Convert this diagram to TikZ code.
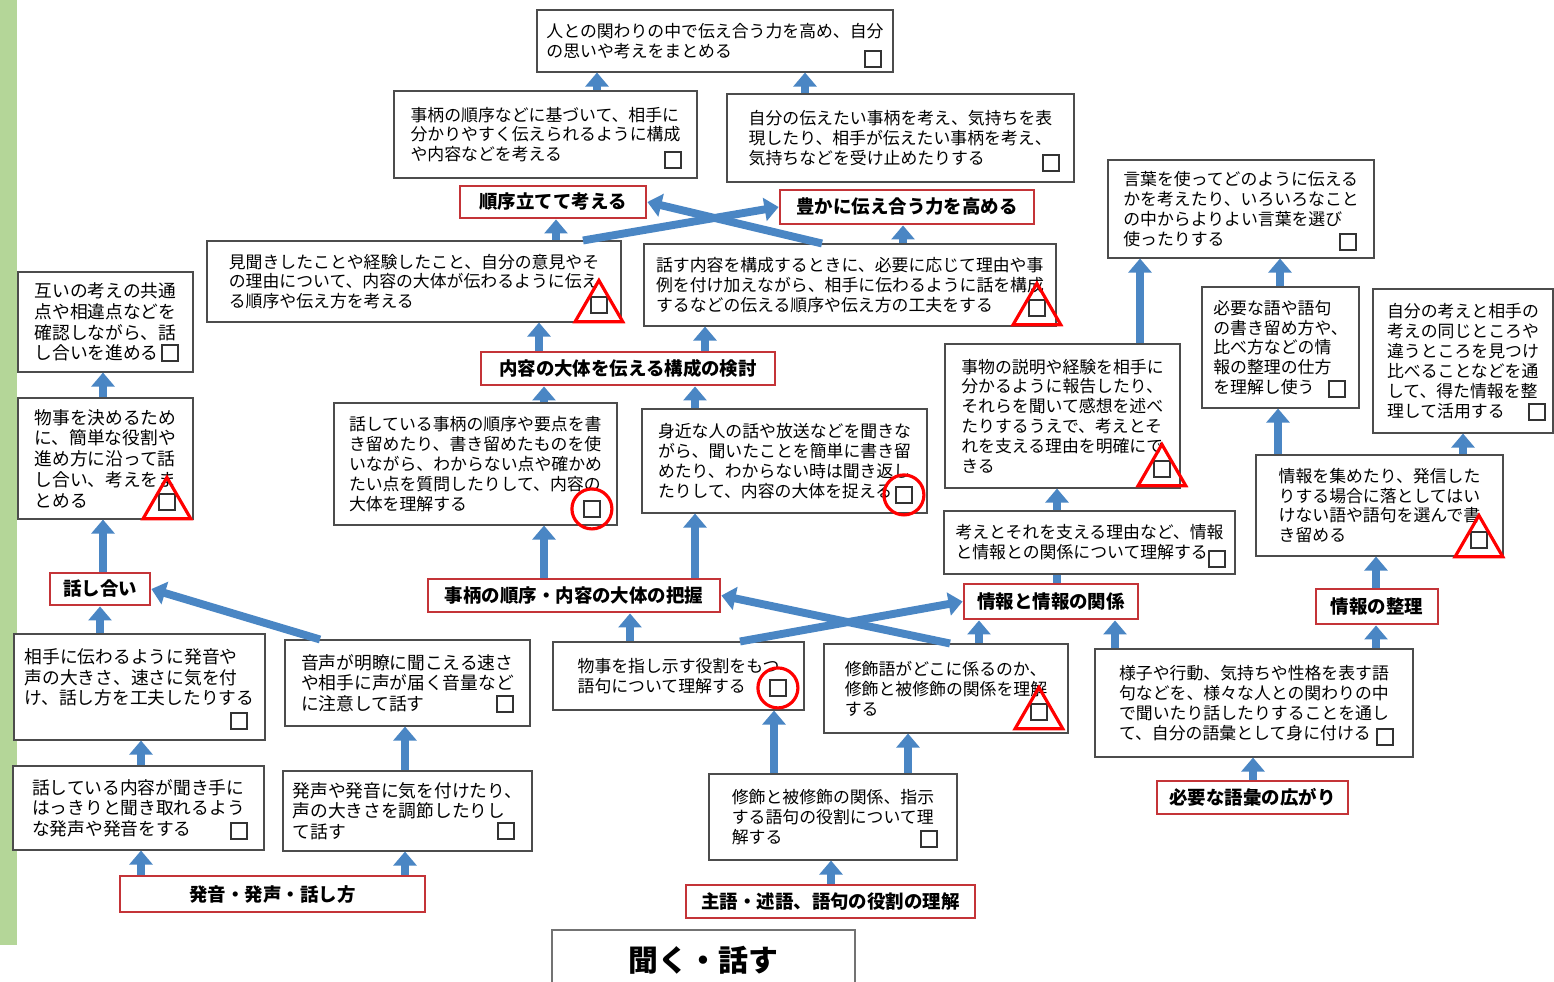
\documentclass[tikz,border=0pt]{standalone}
\usepackage{fontspec}
\usepackage{tikz}
\usetikzlibrary{arrows.meta,shapes.geometric}
\newfontfamily\cjk{Noto Sans CJK JP}
\definecolor{arrowblue}{RGB}{74,134,196}
\definecolor{tagred}{RGB}{196,52,56}
\definecolor{stripgreen}{RGB}{180,214,152}

\begin{document}
\begin{tikzpicture}
		[x=0.02cm,y=-0.02cm,
		box/.style={draw=black!70,line width=0.6pt,fill=white,align=left,inner sep=0pt,
font=\cjk\fontsize{9.6}{11.3}\selectfont},
		loose/.style={font=\cjk\fontsize{10.1}{11.8}\selectfont},
		sz/.style 2 args={minimum width=#1*0.02cm,minimum height=#2*0.02cm},
		tag/.style={draw=tagred,line width=1.6pt,fill=white,inner sep=0pt,
font=\cjk\bfseries\fontsize{10.5}{12}\selectfont},
		chk/.style={draw=black!80,line width=0.7pt,fill=white,inner sep=0pt,
minimum size=0.32cm,anchor=south east},
		tri/.style={regular polygon,regular polygon sides=3,draw=red,line width=1.8pt,
minimum size=1.1cm,inner sep=0pt},
		ring/.style={circle,draw=red,line width=1.8pt,minimum size=0.8cm,inner sep=0pt},
		flow/.style={draw=arrowblue,line width=4.5pt,-{Triangle[width=13pt,length=8pt]}},
		link/.style={draw=arrowblue,line width=4.5pt}]
		\fill[white] (0,0) rectangle (1554,981);
		\useasboundingbox (0,0) rectangle (1554,981);
		\fill[stripgreen] (0,0) rectangle (17,945);

		\node at (715,41) (top) [box,sz={356}{62}] {人との関わりの中で伝え合う力を高め、自分\\の思いや考えをまとめる};
		\node at (545.5,134.5) (bA) [box,sz={303}{87}] {事柄の順序などに基づいて、相手に\\分かりやすく伝えられるように構成\\や内容などを考える};
		\node at (900.5,138) (bB) [box,sz={347}{88}] {自分の伝えたい事柄を考え、気持ちを表\\現したり、相手が伝えたい事柄を考え、\\気持ちなどを受け止めたりする};
		\node at (553,202) (junjo) [tag,sz={186}{32}] {順序立てて考える};
		\node at (907,207) (yutaka) [tag,sz={254}{34}] {豊かに伝え合う力を高める};
		\node at (414,281.5) (bC) [box,sz={414}{81}] {見聞きしたことや経験したこと、自分の意見やそ\\の理由について、内容の大体が伝わるように伝え\\る順序や伝え方を考える};
		\node at (850,285) (bD) [box,sz={412}{82}] {話す内容を構成するときに、必要に応じて理由や事\\例を付け加えながら、相手に伝わるように話を構成\\するなどの伝える順序や伝え方の工夫をする};
		\node at (628,368.5) (kousei) [tag,sz={294}{33}] {内容の大体を伝える構成の検討};
		\node at (475.5,464) (bE) [box,sz={283}{122}] {話している事柄の順序や要点を書\\き留めたり、書き留めたものを使\\いながら、わからない点や確かめ\\たい点を質問したりして、内容の\\大体を理解する};
		\node at (784.5,461) (bF) [box,sz={285}{104}] {身近な人の話や放送などを聞きな\\がら、聞いたことを簡単に書き留\\めたり、わからない時は聞き返し\\たりして、内容の大体を捉える};
		\node at (574,595.5) (haaku) [tag,sz={292}{33}] {事柄の順序・内容の大体の把握};

		\node at (105.5,322) (bG) [box,loose,sz={175}{100}] {互いの考えの共通\\点や相違点などを\\確認しながら、話\\し合いを進める};
		\node at (105.5,458.5) (bH) [box,loose,sz={175}{121}] {物事を決めるため\\に、簡単な役割や\\進め方に沿って話\\し合い、考えをま\\とめる};
		\node at (100,589) (hanashi) [tag,sz={100}{32}] {話し合い};
		\node at (139.5,687) (bI) [box,loose,sz={251}{106}] {相手に伝わるように発音や\\声の大きさ、速さに気を付\\け、話し方を工夫したりする\\\mbox{}};
		\node at (407.5,683) (bJ) [box,loose,sz={245}{86}] {音声が明瞭に聞こえる速さ\\や相手に声が届く音量など\\に注意して話す};
		\node at (138.5,808) (bK) [box,loose,sz={251}{84}] {話している内容が聞き手に\\はっきりと聞き取れるよう\\な発声や発音をする};
		\node at (407.5,811) (bL) [box,loose,sz={249}{80}] {発声や発音に気を付けたり、\\声の大きさを調節したりし\\て話す};
		\node at (272.5,894) (hatsuon) [tag,sz={305}{36}] {発音・発声・話し方};

		\node at (678.5,676) (bM) [box,sz={251}{68}] {物事を指し示す役割をもつ\\語句について理解する};
		\node at (946,688.5) (bN) [box,sz={244}{89}] {修飾語がどこに係るのか、\\修飾と被修飾の関係を理解\\する};
		\node at (833,817) (bO) [box,sz={248}{86}] {修飾と被修飾の関係、指示\\する語句の役割について理\\解する};
		\node at (830.5,901.5) (shugo) [tag,sz={289}{33}] {主語・述語、語句の役割の理解};
		\node at (703.5,960) (title) [draw=black!55,line width=1.3pt,fill=white,sz={303}{60},
font=\cjk\bfseries\fontsize{17}{20}\selectfont] {聞く・話す};

		\node at (1241,209) (bP) [box,sz={266}{98}] {言葉を使ってどのように伝える\\かを考えたり、いろいろなこと\\の中からよりよい言葉を選び\\使ったりする};
		\node at (1280.5,347.5) (bQ) [box,sz={157}{121}] {必要な語や語句\\の書き留め方や、\\比べ方などの情\\報の整理の仕方\\を理解し使う};
		\node at (1463,361) (bR) [box,sz={180}{144}] {自分の考えと相手の\\考えの同じところや\\違うところを見つけ\\比べることなどを通\\して、得た情報を整\\理して活用する};
		\node at (1062.5,416) (bS) [box,sz={235}{144}] {事物の説明や経験を相手に\\分かるように報告したり、\\それらを聞いて感想を述べ\\たりするうえで、考えとそ\\れを支える理由を明確にで\\きる};
		\node at (1089.5,542.5) (bT) [box,sz={291}{63}] {考えとそれを支える理由など、情報\\と情報との関係について理解する};
		\node at (1379.5,505.5) (bU) [box,sz={247}{101}] {情報を集めたり、発信した\\りする場合に落としてはい\\けない語や語句を選んで書\\き留める};
		\node at (1051,601.5) (kankei) [tag,sz={174}{35}] {情報と情報の関係};
		\node at (1377,606.5) (seiri) [tag,sz={122}{35}] {情報の整理};
		\node at (1254,703) (bV) [box,sz={318}{108}] {様子や行動、気持ちや性格を表す語\\句などを、様々な人との関わりの中\\で聞いたり話したりすることを通し\\て、自分の語彙として身に付ける};
		\node at (1252.5,797.5) (goi) [tag,sz={191}{33}] {必要な語彙の広がり};

		\node at ([shift={(-12,-5)}]top.south east) (cTop) [chk] {};
		\node at ([shift={(-16,-10)}]bA.south east) (cA) [chk] {};
		\node at ([shift={(-15,-11)}]bB.south east) (cB) [chk] {};
		\node at ([shift={(-14,-9)}]bC.south east) (cC) [chk] {};
		\node at ([shift={(-11,-10)}]bD.south east) (cD) [chk] {};
		\node at ([shift={(-17,-8)}]bE.south east) (cE) [chk] {};
		\node at ([shift={(-15,-10)}]bF.south east) (cF) [chk] {};
		\node at ([shift={(-15,-11)}]bG.south east) (cG) [chk] {};
		\node at ([shift={(-18,-9)}]bH.south east) (cH) [chk] {};
		\node at ([shift={(-18,-11)}]bI.south east) (cI) [chk] {};
		\node at ([shift={(-17,-14)}]bJ.south east) (cJ) [chk] {};
		\node at ([shift={(-17,-11)}]bK.south east) (cK) [chk] {};
		\node at ([shift={(-18,-12)}]bL.south east) (cL) [chk] {};
		\node at ([shift={(-18,-14)}]bM.south east) (cM) [chk] {};
		\node at ([shift={(-21,-13)}]bN.south east) (cN) [chk] {};
		\node at ([shift={(-20,-13)}]bO.south east) (cO) [chk] {};
		\node at ([shift={(-18,-8)}]bP.south east) (cP) [chk] {};
		\node at ([shift={(-14,-11)}]bQ.south east) (cQ) [chk] {};
		\node at ([shift={(-8,-13)}]bR.south east) (cR) [chk] {};
		\node at ([shift={(-10,-11)}]bS.south east) (cS) [chk] {};
		\node at ([shift={(-10,-7)}]bT.south east) (cT) [chk] {};
		\node at ([shift={(-16,-8)}]bU.south east) (cU) [chk] {};
		\node at ([shift={(-20,-12)}]bV.south east) (cV) [chk] {};

		\node at ([shift={(0,3)}]cC) [tri] {};
		\node at ([shift={(0,3)}]cD) [tri] {};
		\node at ([shift={(0,3)}]cH) [tri] {};
		\node at ([shift={(0,3)}]cN) [tri] {};
		\node at ([shift={(0,3)}]cS) [tri] {};
		\node at ([shift={(0,3)}]cU) [tri] {};
		\node at (cE) [ring] {};
		\node at (cF) [ring] {};
		\node at (cM) [ring] {};

		\draw[flow] (597,0 |- bA.north) -- (597,0 |- top.south);
		\draw[flow] (805,0 |- bB.north) -- (805,0 |- top.south);
		\draw[flow] (556,0 |- bC.north) -- (556,0 |- junjo.south);
		\draw[flow] (903,0 |- bD.north) -- (903,0 |- yutaka.south);
		\draw[flow] (583,0 |- bC.north) -- (yutaka.west);
		\draw[flow] (822,0 |- bD.north) -- (junjo.east);
		\draw[flow] (539,0 |- kousei.north) -- (539,0 |- bC.south);
		\draw[flow] (705,0 |- kousei.north) -- (705,0 |- bD.south);
		\draw[flow] (544,0 |- bE.north) -- (544,0 |- kousei.south);
		\draw[flow] (695,0 |- bF.north) -- (695,0 |- kousei.south);
		\draw[flow] (544,0 |- haaku.north) -- (544,0 |- bE.south);
		\draw[flow] (695,0 |- haaku.north) -- (695,0 |- bF.south);
		\draw[flow] (630,0 |- bM.north) -- (630,0 |- haaku.south);
		\draw[flow] (740,0 |- bM.north) -- (kankei.west);
		\draw[flow] (950,0 |- bN.north) -- (haaku.east);
		\draw[flow] (979,0 |- bN.north) -- (979,0 |- kankei.south);
		\draw[flow] (1115,0 |- bV.north) -- (1115,0 |- kankei.south);
		\draw[flow] (1376,0 |- bV.north) -- (1376,0 |- seiri.south);
		\draw[flow] (1253,0 |- goi.north) -- (1253,0 |- bV.south);
		\draw[link] (1057,0 |- kankei.north) -- (1057,0 |- bT.south);
		\draw[flow] (1057,0 |- bT.north) -- (1057,0 |- bS.south);
		\draw[flow] (1140,0 |- bS.north) -- (1140,0 |- bP.south);
		\draw[flow] (1280,0 |- bQ.north) -- (1280,0 |- bP.south);
		\draw[flow] (1376,0 |- seiri.north) -- (1376,0 |- bU.south);
		\draw[flow] (1278,0 |- bU.north) -- (1278,0 |- bQ.south);
		\draw[flow] (1463,0 |- bU.north) -- (1463,0 |- bR.south);
		\draw[flow] (774,0 |- bO.north) -- (774,0 |- bM.south);
		\draw[flow] (908,0 |- bO.north) -- (908,0 |- bN.south);
		\draw[flow] (831,0 |- shugo.north) -- (831,0 |- bO.south);
		\draw[flow] (103,0 |- bH.north) -- (103,0 |- bG.south);
		\draw[flow] (103,0 |- hanashi.north) -- (103,0 |- bH.south);
		\draw[flow] (100,0 |- bI.north) -- (100,0 |- hanashi.south);
		\draw[flow] (320,0 |- bJ.north) -- (hanashi.east);
		\draw[flow] (141,0 |- bK.north) -- (141,0 |- bI.south);
		\draw[flow] (141,0 |- hatsuon.north) -- (141,0 |- bK.south);
		\draw[flow] (405,0 |- bL.north) -- (405,0 |- bJ.south);
		\draw[flow] (405,0 |- hatsuon.north) -- (405,0 |- bL.south);
	\end{tikzpicture}
\end{document}
